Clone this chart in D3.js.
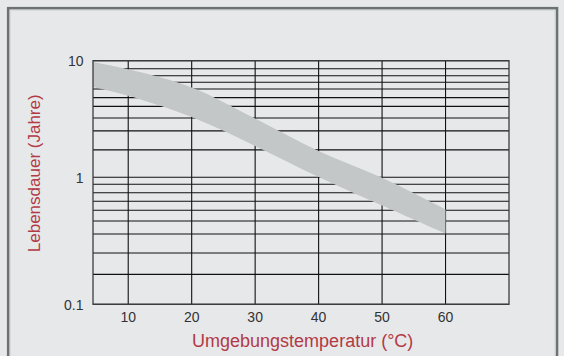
<!DOCTYPE html>
<html>
<head>
<meta charset="utf-8">
<script src="https://cdn.jsdelivr.net/npm/d3@7/dist/d3.min.js"></script>
<style>
  html, body { margin: 0; padding: 0; background: #e7e8ea; }
  svg { display: block; }
  text { font-family: "Liberation Sans", Arial, Helvetica, sans-serif; }
</style>
</head>
<body>
<svg id="chart" width="564" height="356"></svg>
<script>
// Ambient temperature (°C) and service life band (years)
const temps     = [4.45, 10, 20, 30, 40, 50, 60];
const lifeUpper = [9.75, 8.44, 5.89, 3.19, 1.68, 0.99, 0.558];
const lifeLower = [5.95, 5.01, 3.29, 1.86, 1.006, 0.60, 0.361];

// Axis ticks and grid
const xTicks = [10, 20, 30, 40, 50, 60];
const yTicks = [10, 1, 0.1];
const yTickLabels = ["10", "1", "0.1"];
const yGridMinor = [8.54, 7.43, 6.53, 5.72, 4.82, 4.06, 3.23, 2.50, 1.72,
                    0.881, 0.756, 0.647, 0.550, 0.453, 0.358, 0.2535, 0.172];

const svg = d3.select("#chart");

const plot = { left: 93, right: 509, top: 60.7, bottom: 304.3 };

const x = d3.scaleLinear().domain([4.45, 70]).range([plot.left, plot.right]);
const y = d3.scaleLog().domain([0.1, 1, 10]).range([plot.bottom, 177.3, plot.top]);

// outer frame
svg.append("rect")
  .attr("x", 8.2).attr("y", 8.2).attr("width", 548.8).attr("height", 400)
  .attr("fill", "none").attr("stroke", "#6b7271").attr("stroke-width", 2.6);
svg.append("rect")
  .attr("x", 10.2).attr("y", 10.2).attr("width", 544.8).attr("height", 400)
  .attr("fill", "none").attr("stroke", "#d3d5d6").attr("stroke-width", 1);

const grid = svg.append("g");

// horizontal grid lines
grid.selectAll("line.h")
  .data(yTicks.concat(yGridMinor))
  .join("line")
  .attr("x1", plot.left).attr("x2", plot.right)
  .attr("y1", d => y(d)).attr("y2", d => y(d))
  .attr("stroke", "#111").attr("stroke-width", 1.1);

// vertical grid lines
grid.selectAll("line.v")
  .data(xTicks)
  .join("line")
  .attr("x1", d => x(d)).attr("x2", d => x(d))
  .attr("y1", plot.top).attr("y2", plot.bottom)
  .attr("stroke", "#111").attr("stroke-width", 1.1);

// life band
const band = temps.map((t, i) => ({ t, hi: lifeUpper[i], lo: lifeLower[i] }));
svg.append("path")
  .datum(band)
  .attr("fill", "#c3c7c8")
  .attr("d", d3.area()
    .x(d => x(d.t))
    .y0(d => y(d.lo))
    .y1(d => y(d.hi))
    .curve(d3.curveCatmullRom.alpha(0.5)));

// plot border
svg.append("rect")
  .attr("x", plot.left).attr("y", plot.top)
  .attr("width", plot.right - plot.left).attr("height", plot.bottom - plot.top)
  .attr("fill", "none").attr("stroke", "#3a3d3e").attr("stroke-width", 1.3);

// x tick labels
svg.append("g").selectAll("text")
  .data(xTicks)
  .join("text")
  .attr("x", d => x(d)).attr("y", 322.3)
  .attr("text-anchor", "middle")
  .attr("font-size", 14).attr("fill", "#333")
  .text(d => d);

// y tick labels
svg.append("g").selectAll("text")
  .data(yTicks)
  .join("text")
  .attr("x", 83.5).attr("y", d => y(d) + 5.5)
  .attr("text-anchor", "end")
  .attr("font-size", 14).attr("fill", "#333")
  .text((d, i) => yTickLabels[i]);

// axis titles
svg.append("text")
  .attr("x", 302.7).attr("y", 347.3)
  .attr("text-anchor", "middle")
  .attr("font-size", 18).attr("fill", "#b23a45")
  .text("Umgebungstemperatur (°C)");

svg.append("text")
  .attr("transform", "translate(39.5,173.3) rotate(-90)")
  .attr("text-anchor", "middle")
  .attr("font-size", 17).attr("fill", "#b23a45")
  .text("Lebensdauer (Jahre)");
</script>
</body>
</html>
